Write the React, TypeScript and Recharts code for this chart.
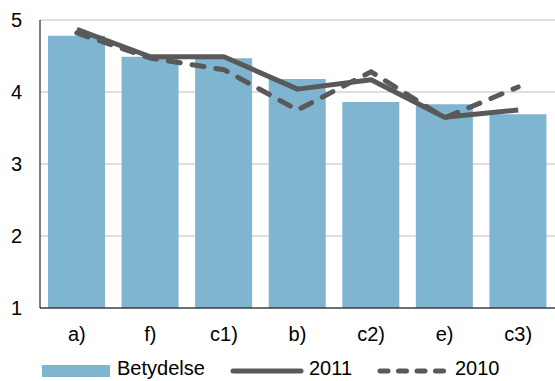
import React from "react";
import {
  ComposedChart,
  Bar,
  Line,
  XAxis,
  YAxis,
  CartesianGrid,
  Legend,
} from "recharts";

// Category labels along the x axis
const categories = ["a)", "f)", "c1)", "b)", "c2)", "e)", "c3)"];
// Importance score per category (bars)
const betydelse = [4.78, 4.49, 4.47, 4.18, 3.86, 3.83, 3.69];
// Scores for 2011 (solid line)
const score2011 = [4.87, 4.49, 4.49, 4.04, 4.17, 3.65, 3.75];
// Scores for 2010 (dashed line)
const score2010 = [4.82, 4.47, 4.31, 3.75, 4.28, 3.64, 4.07];
// Y axis ticks
const yTicks = [1, 2, 3, 4, 5];

const data = categories.map((c, i) => ({
  name: c,
  Betydelse: betydelse[i],
  "2011": score2011[i],
  "2010": score2010[i],
}));

const BAR_COLOR = "#7fb5d1";
const LINE_COLOR = "#595959";
const FONT = "'Liberation Sans', Arial, sans-serif";

const labelStyle: React.CSSProperties = {
  position: "absolute",
  top: 10,
  fontSize: 20,
  lineHeight: "20px",
  color: "#000",
  whiteSpace: "nowrap",
};

const LegendContent = () => (
  <div style={{ position: "relative", width: 555, height: 33, fontFamily: FONT }}>
    <div
      style={{
        position: "absolute",
        left: 42,
        top: 17,
        width: 68,
        height: 12,
        background: BAR_COLOR,
      }}
    />
    <span style={{ ...labelStyle, left: 117 }}>Betydelse</span>
    <svg style={{ position: "absolute", left: 0, top: 0 }} width={555} height={33}>
      <line x1={233} y1={23} x2={301} y2={23} stroke={LINE_COLOR} strokeWidth={5} strokeLinecap="round" />
      <line
        x1={380}
        y1={23}
        x2={446}
        y2={23}
        stroke={LINE_COLOR}
        strokeWidth={5}
        strokeLinecap="round"
        strokeDasharray="8 10.5"
      />
    </svg>
    <span style={{ ...labelStyle, left: 309 }}>2011</span>
    <span style={{ ...labelStyle, left: 455 }}>2010</span>
  </div>
);

export default function App() {
  return (
    <div style={{ position: "absolute", left: 0, top: 0, width: 555, height: 381, background: "#fff" }}>
      <ComposedChart
        width={555}
        height={381}
        data={data}
        margin={{ top: 20, right: 0, bottom: 0, left: 0 }}
      >
        <CartesianGrid vertical={false} stroke="#bfbfbf" strokeWidth={1} />
        <XAxis
          dataKey="name"
          height={40}
          tickLine={false}
          axisLine={{ stroke: "#000", strokeWidth: 1 }}
          tickSize={0}
          tickMargin={19}
          tick={{ fill: "#000", fontSize: 20, fontFamily: FONT }}
          interval={0}
        />
        <YAxis
          width={40}
          domain={[1, 5]}
          ticks={yTicks}
          type="number"
          allowDataOverflow
          tickLine={false}
          tickSize={0}
          tickMargin={18}
          axisLine={{ stroke: "#000", strokeWidth: 1 }}
          tick={{ fill: "#000", fontSize: 20, fontFamily: FONT }}
        />
        <Legend
          verticalAlign="bottom"
          height={33}
          content={<LegendContent />}
          wrapperStyle={{ left: 0, width: 555, height: 33 }}
        />
        <Bar dataKey="Betydelse" fill={BAR_COLOR} barSize={57} isAnimationActive={false} />
        <Line
          dataKey="2010"
          stroke={LINE_COLOR}
          strokeWidth={5}
          strokeDasharray="12 12"
          strokeLinecap="round"
          dot={false}
          activeDot={false}
          isAnimationActive={false}
        />
        <Line
          dataKey="2011"
          stroke={LINE_COLOR}
          strokeWidth={5}
          strokeLinejoin="round"
          dot={false}
          activeDot={false}
          isAnimationActive={false}
        />
      </ComposedChart>
    </div>
  );
}
